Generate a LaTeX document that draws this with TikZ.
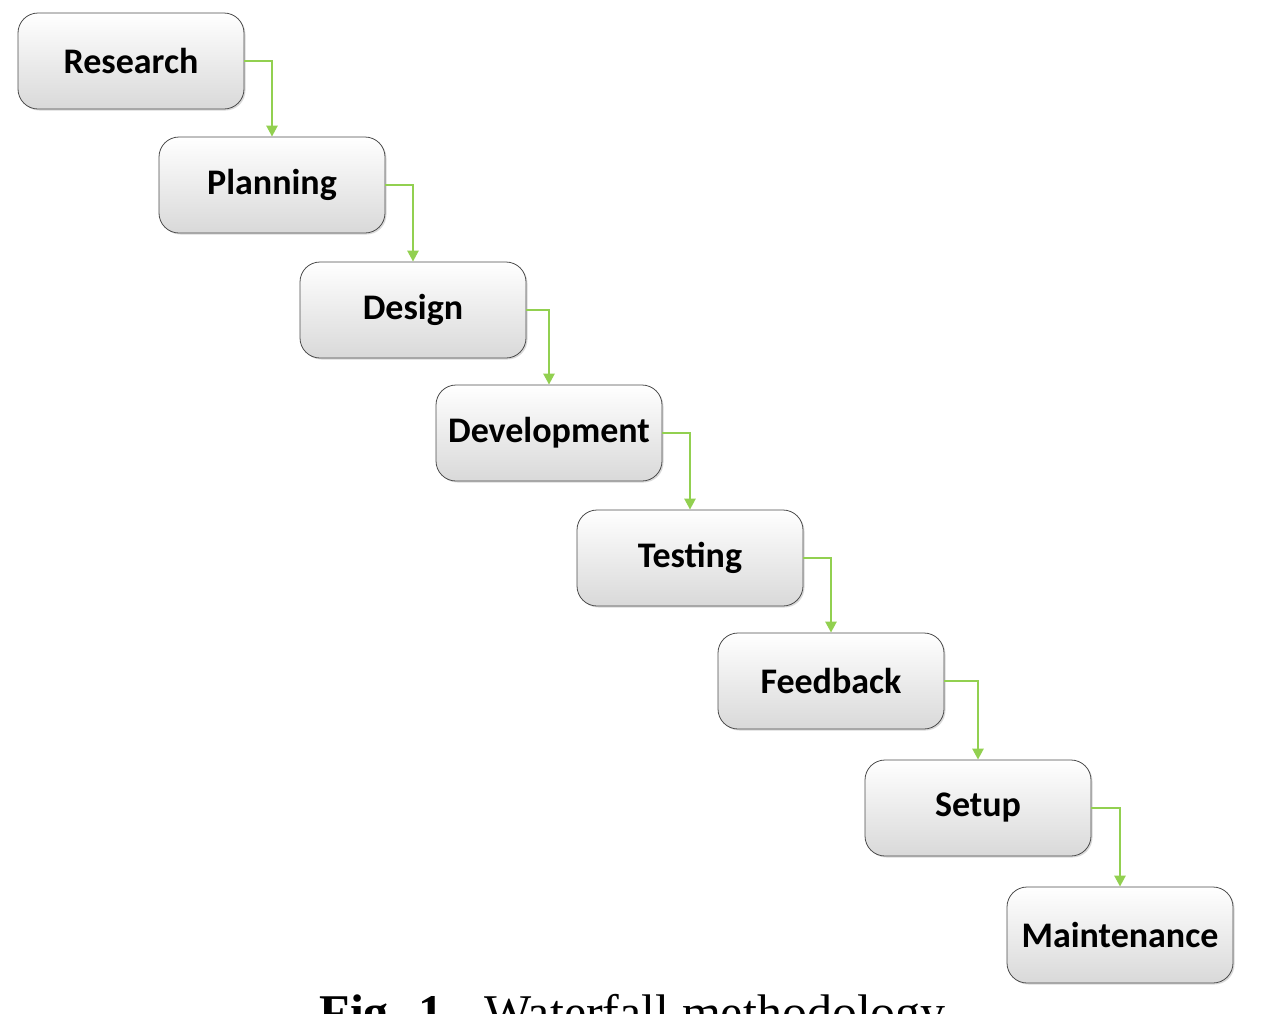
\documentclass[tikz,border=0pt]{standalone}
\usepackage{fontspec}
\setmainfont{Carlito}
\newfontfamily\capfont{Liberation Serif}
\usetikzlibrary{arrows.meta,shadows}
\definecolor{arrgreen}{RGB}{146,208,80}
\begin{document}
\begin{tikzpicture}[x=1pt,y=-1pt,
  box/.style={draw=black!70,line width=0.8pt,rounded corners=20pt,minimum width=226pt,minimum height=96pt,
    top color=white,bottom color=black!15,font=\bfseries\fontsize{36}{40}\selectfont,
    drop shadow={shadow xshift=1.5pt,shadow yshift=-1.5pt,opacity=0.3}},
  flow/.style={draw=arrgreen,line width=2.5pt,-{Triangle[length=11pt,width=11pt]}}]
\useasboundingbox (0,0) rectangle (1262,1013);
\clip (0,0) rectangle (1262,1013);
\node[box] (a) at (131,61) {Research};
\node[box] (b) at (272,185) {Planning};
\node[box] (c) at (413,310) {Design};
\node[box] (d) at (549,433) {Development};
\node[box] (e) at (690,558) {Testing};
\node[box] (f) at (831,681) {Feedback};
\node[box] (g) at (978,808) {Setup};
\node[box] (h) at (1120,935) {Maintenance};
\foreach \p/\q in {a/b,b/c,c/d,d/e,e/f,f/g,g/h}
  \draw[flow] (\p.east) -| (\q.north);
\node[anchor=base west,font=\capfont\fontsize{50}{54}\selectfont] (cap) at (316,1029) {\textbf{Fig. 1} - Waterfall methodology};
\end{tikzpicture}
\end{document}
